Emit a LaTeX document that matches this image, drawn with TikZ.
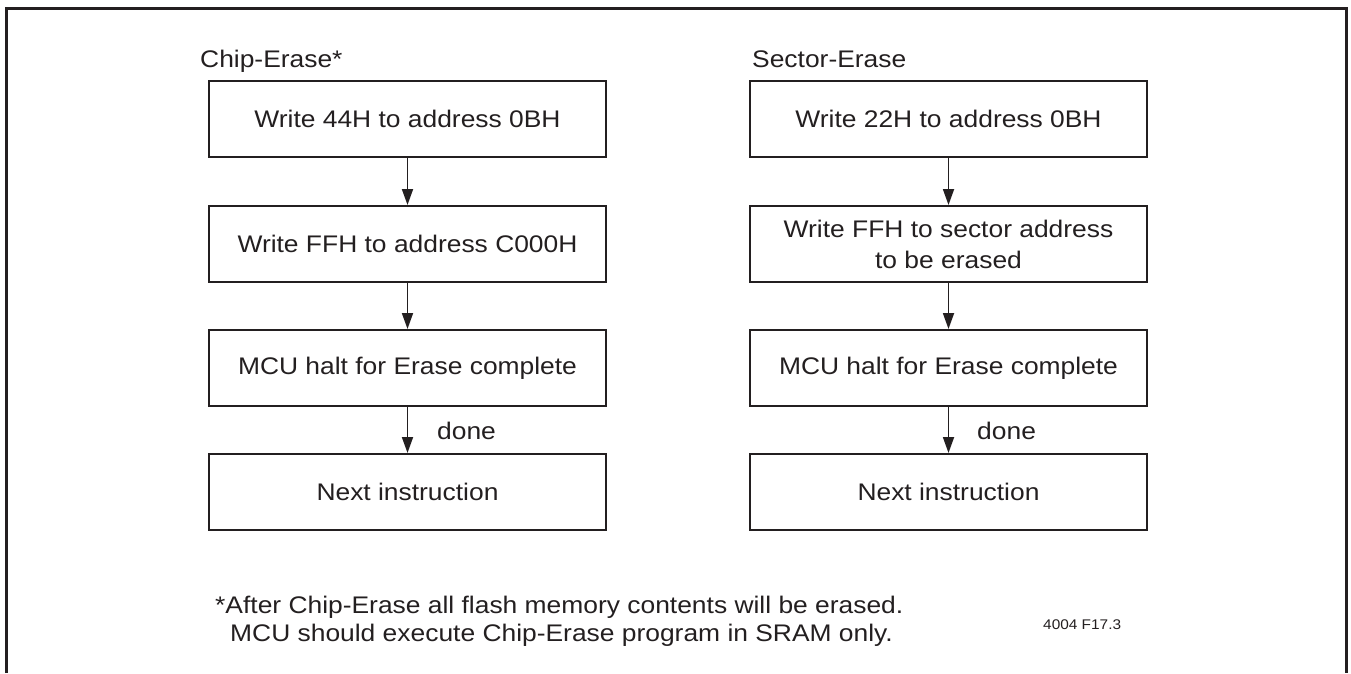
\documentclass[tikz,border=0pt]{standalone}
\usepackage{fontspec}
\setmainfont{Liberation Sans}[FakeStretch=1.1]
\usetikzlibrary{arrows.meta}
\definecolor{ink}{HTML}{231F20}
\begin{document}
\begin{tikzpicture}[x=1pt,y=-1pt,
  stepbox/.style={draw=ink, line width=2pt, minimum width=397pt, minimum height=76pt,
    inner sep=0pt, align=center, text=ink, font=\fontsize{24}{31}\selectfont},
  flow/.style={draw=ink, line width=1.8pt, -{Triangle[length=16pt,width=11pt]}},
  txt/.style={inner sep=0pt, anchor=base west, text=ink, font=\fontsize{24}{31}\selectfont},
  small/.style={inner sep=0pt, anchor=base west, text=ink, font=\fontsize{14}{17}\selectfont}]
\useasboundingbox (0,0) rectangle (1351,673);

% open frame
\draw[ink, line width=3pt] (6,673) -- (6,8) -- (1346,8) -- (1346,673);

% Chip-Erase flow
\node[txt] (ctitle) at (200,67) {Chip-Erase*};
\node[stepbox] (c1) at (407.5,119) {Write 44H to address 0BH};
\node[stepbox] (c2) at (407.5,244) {Write FFH to address C000H};
\node[stepbox] (c3) at (407.5,368) {MCU halt for Erase complete};
\node[stepbox] (c4) at (407.5,492) {Next instruction};
\draw[flow] (c1) -- (c2);
\draw[flow] (c2) -- (c3);
\draw[flow] (c3) -- (c4);
\node[txt] (cdone) at (437,439) {done};

% Sector-Erase flow
\node[txt] (stitle) at (752,67) {Sector-Erase};
\node[stepbox] (s1) at (948.5,119) {Write 22H to address 0BH};
\node[stepbox] (s2) at (948.5,244) {Write FFH to sector address\\to be erased};
\node[stepbox] (s3) at (948.5,368) {MCU halt for Erase complete};
\node[stepbox] (s4) at (948.5,492) {Next instruction};
\draw[flow] (s1) -- (s2);
\draw[flow] (s2) -- (s3);
\draw[flow] (s3) -- (s4);
\node[txt] (sdone) at (977,439) {done};

% footnote and figure number
\node[txt] (note1) at (215,613) {*After Chip-Erase all flash memory contents will be erased.};
\node[txt] (note2) at (230,641) {MCU should execute Chip-Erase program in SRAM only.};
\node[small] (fig) at (1043,629) {4004 F17.3};
\end{tikzpicture}
\end{document}
